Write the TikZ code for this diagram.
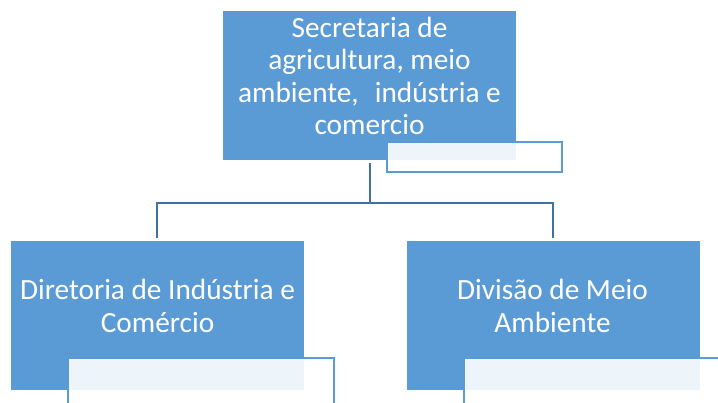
\documentclass[tikz,border=0pt]{standalone}
\usepackage{fontspec}
\setmainfont{Carlito}
\usetikzlibrary{positioning}
\definecolor{boxblue}{HTML}{5B9BD5}
\definecolor{linkblue}{HTML}{41719C}

\begin{document}
\begin{tikzpicture}[x=1pt,y=-1pt,
  unit/.style={fill=boxblue,minimum width=293pt,minimum height=149pt,inner sep=0pt},
  subunit/.style={draw=boxblue,line width=1.5pt,fill=white,fill opacity=0.9,inner sep=0pt},
  unittext/.style={text=white,align=center,inner sep=0pt,font=\fontsize{29.3}{32.5}\selectfont},
  link/.style={draw=linkblue,line width=2pt}]
\useasboundingbox (0,0) rectangle (718,403);
\clip (0,0) rectangle (718,403);
\node[unit] (sec) at (369.5,85.5) {};
\node[unit] (dir) at (157,316) {};
\node[unit] (div) at (553,316) {};
\node[subunit,minimum width=175pt,minimum height=30pt] (secsub) at (474.5,157) {};
\node[subunit,minimum width=266pt,minimum height=60pt] (dirsub) at (201,388) {};
\node[subunit,minimum width=266pt,minimum height=60pt] (divsub) at (597,388) {};
\node[unittext] (sectext) at (369.5,76) {Secretaria de\\agricultura, meio\\ambiente,\hspace*{16pt}indústria e\\comercio};
\node[unittext] (dirtext) at (157.5,306) {Diretoria de Indústria e\\Comércio};
\node[unittext] (divtext) at (552.5,306) {Divisão de Meio\\Ambiente};
\coordinate (fork) at (369.5,203);
\draw[link] ([yshift=-3pt]sec.south) -- (fork);
\draw[link] ([yshift=3pt]dir.north) |- (fork) -| ([yshift=3pt]div.north);
\end{tikzpicture}
\end{document}
